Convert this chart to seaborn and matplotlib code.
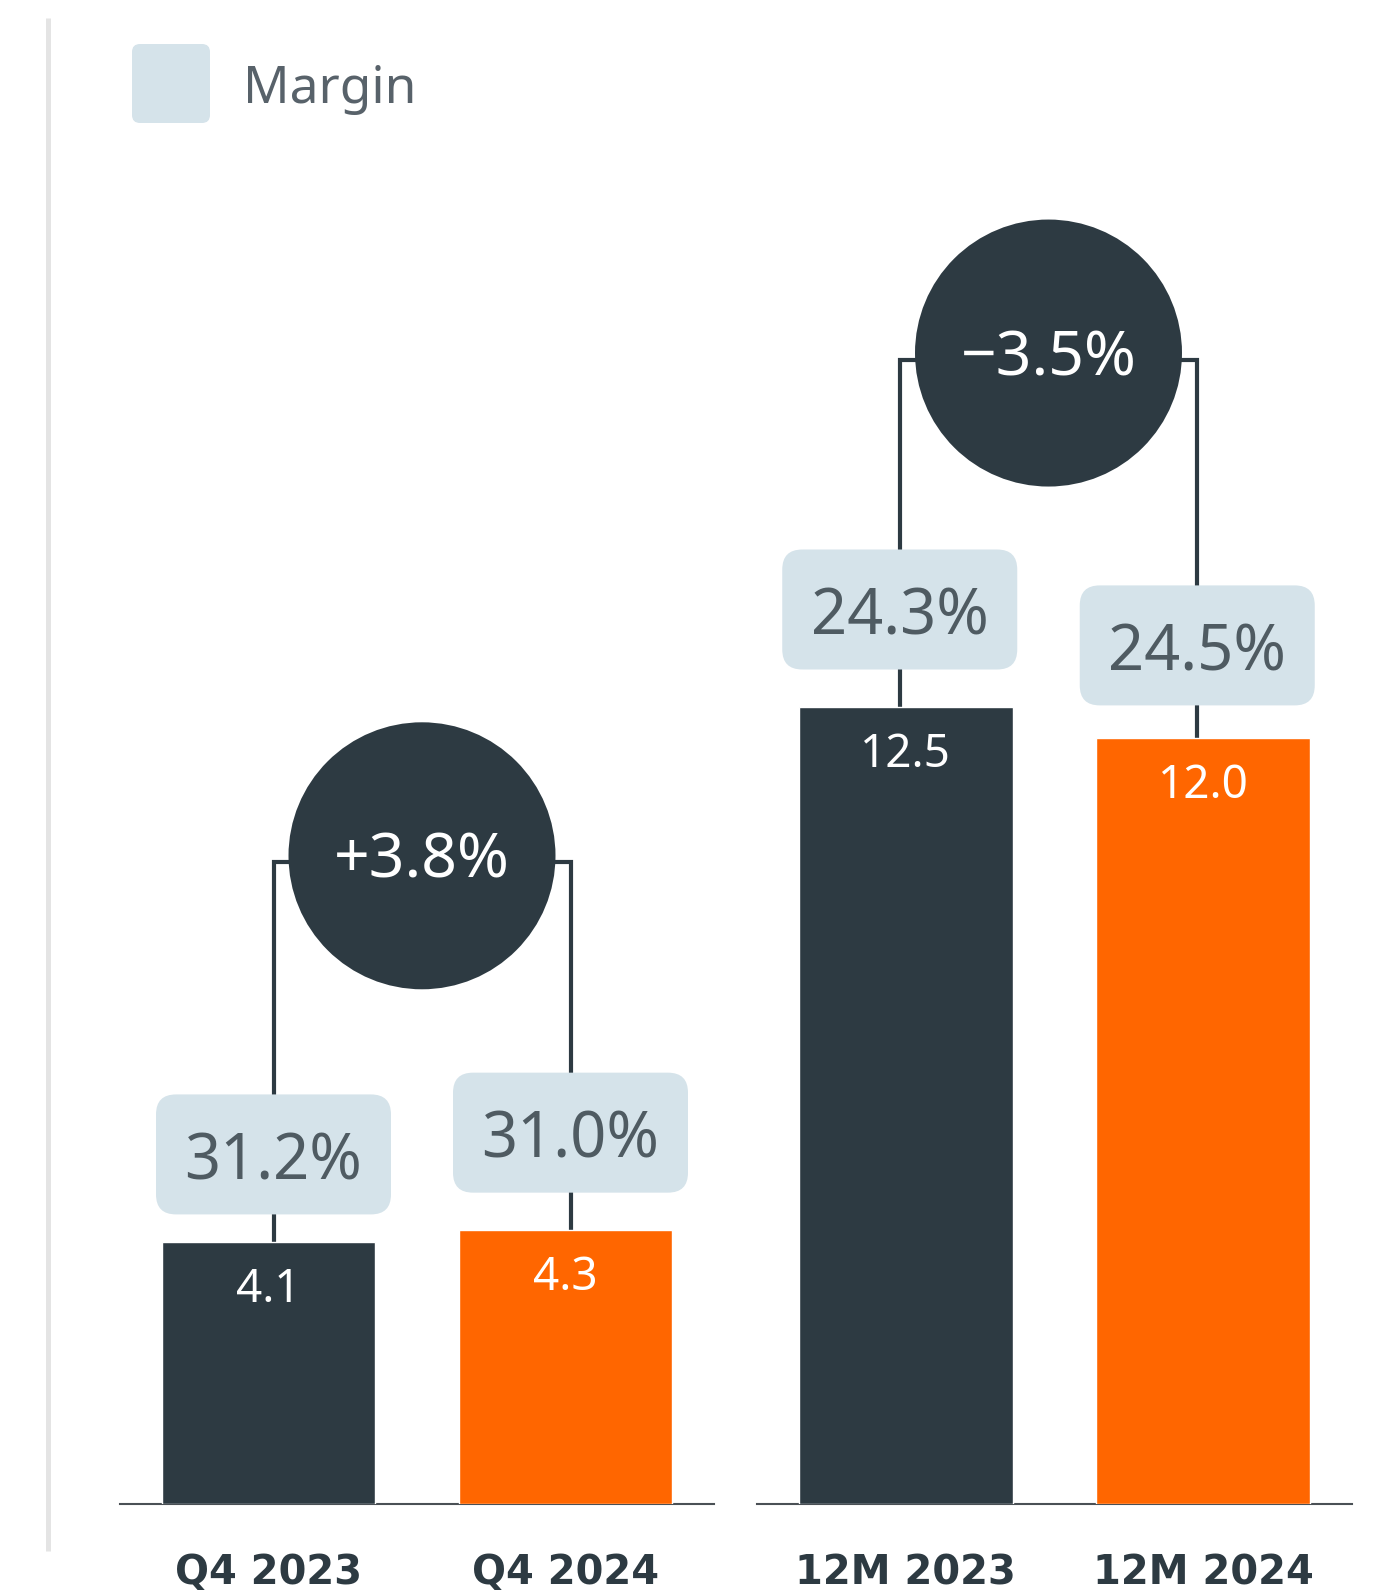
import matplotlib
matplotlib.use("Agg")
import matplotlib.pyplot as plt
import numpy as np
import pandas as pd
import seaborn as sns
from matplotlib.patches import FancyBboxPatch, Circle
from matplotlib.lines import Line2D
from matplotlib.transforms import ScaledTranslation

# ---- data -------------------------------------------------------------
periods = ["Q4 2023", "Q4 2024", "12M 2023", "12M 2024"]
values = [4.1, 4.3, 12.5, 12.0]          # bar values
margins = [31.2, 31.0, 24.3, 24.5]        # margin, %
groups = ["Q4", "Q4", "12M", "12M"]
group_order = ["Q4", "12M"]
changes = [3.8, -3.5]                     # year-on-year change per group, %

# ---- style ------------------------------------------------------------
DARK = "#2d3a42"
ORANGE = "#ff6600"
BOX = "#d5e3ea"
BOX_TEXT = "#4f5b62"
BASE_LINE = "#4a5055"

sns.set_style("white")
plt.rcParams["font.family"] = ["Noto Sans", "DejaVu Sans"]

W, H, DPI = 1378, 1593, 100
fig = plt.figure(figsize=(W / DPI, H / DPI), dpi=DPI)
fig.patch.set_facecolor("white")

BASE = 1504          # baseline, px from top
PX_PER_UNIT = 63.8   # vertical scale
YMAX = BASE / PX_PER_UNIT


def px(v):
    return v / DPI


def axes_rect(x0, x1):
    return [x0 / W, (H - BASE) / H, (x1 - x0) / W, BASE / H]


df = pd.DataFrame({"period": periods, "value": values,
                   "margin": margins, "group": groups})

axes = [fig.add_axes(axes_rect(120, 714)), fig.add_axes(axes_rect(757, 1352))]

# layout: horizontal nudge of connectors per group (px), bubble height (data units)
conn_dx = [5, -6]
bubble_y = [10.16, 18.04]
bubble_r = px(133.5)
box_w, box_h = px(235), px(120)
box_gaps = [[28, 37], [37, 33]]   # space between bar top and badge, px

for gi, (ax, g) in enumerate(zip(axes, group_order)):
    sub = df[df["group"] == g].reset_index(drop=True)
    sns.barplot(data=sub, x="period", y="value", hue="period",
                palette=[DARK, ORANGE], width=0.72, saturation=1,
                legend=False, ax=ax, zorder=2)
    ax.set_xlim(-0.5, 1.5)
    ax.set_ylim(0, YMAX)
    ax.set_xlabel("")
    ax.set_ylabel("")
    ax.set_yticks([])
    ax.patch.set_alpha(0)
    for s in ["left", "right", "top"]:
        ax.spines[s].set_visible(False)
    ax.spines["bottom"].set_color(BASE_LINE)
    ax.spines["bottom"].set_linewidth(1.5)
    ax.spines["bottom"].set_zorder(1.5)
    ax.tick_params(axis="x", length=0, pad=35.5, colors=DARK)
    for lbl in ax.get_xticklabels():
        lbl.set_family("DejaVu Sans")
        lbl.set_fontweight("bold")
        lbl.set_fontsize(28.8)
        lbl.set_color(DARK)

    dx = px(conn_dx[gi])
    cy = bubble_y[gi]
    xc = 0.5

    for i, row in sub.iterrows():
        v = row["value"]
        gap = px(box_gaps[gi][i])
        anchor = fig.dpi_scale_trans + ScaledTranslation(i, v, ax.transData)

        # connector: bar top -> up -> across to bubble
        conn_tr = ax.transData + ScaledTranslation(dx, px(-6.5), fig.dpi_scale_trans)
        ax.add_line(Line2D([i, i, xc], [v, cy, cy], transform=conn_tr,
                           color=DARK, lw=3.0, zorder=0.8,
                           solid_joinstyle="miter", clip_on=False))

        # margin badge
        ax.add_patch(FancyBboxPatch((dx - box_w / 2, gap), box_w, box_h,
                                    boxstyle="round,pad=0,rounding_size=0.2",
                                    transform=anchor, facecolor=BOX,
                                    edgecolor="none", zorder=3, clip_on=False))
        ax.text(dx, gap + box_h / 2 - px(2) - px(23),
                f"{row['margin']:.1f}%", transform=anchor,
                ha="center", va="baseline", fontsize=45.5,
                color=BOX_TEXT, zorder=4, clip_on=False)

        # value inside the bar
        ax.text(0, px(-60), f"{v:.1f}", transform=anchor,
                ha="center", va="baseline", fontsize=33,
                color="white", zorder=4, clip_on=False)

    # change bubble
    b_anchor = fig.dpi_scale_trans + ScaledTranslation(xc, cy, ax.transData)
    ax.add_patch(Circle((dx, 0), bubble_r, transform=b_anchor,
                        facecolor=DARK, edgecolor="none", zorder=3,
                        clip_on=False))
    ch = changes[gi]
    sign = "+" if ch > 0 else "\u2212"
    ax.text(dx, px(-22), f"{sign}{abs(ch):.1f}%", transform=b_anchor,
            ha="center", va="baseline", fontsize=45, color="white",
            zorder=4, clip_on=False)

# legend swatch and label
fig.patches.append(FancyBboxPatch((px(132), px(H - 123)), px(78), px(79),
                                  boxstyle="round,pad=0,rounding_size=0.08",
                                  transform=fig.dpi_scale_trans,
                                  facecolor=BOX, edgecolor="none"))
fig.text(px(243), px(H - 103.3), "Margin", transform=fig.dpi_scale_trans,
         ha="left", va="baseline", fontsize=37, color="#58626a")

# thin divider on the left
fig.add_artist(Line2D([px(47.5), px(47.5)], [px(H - 18), px(H - 1551)],
                      transform=fig.dpi_scale_trans, color="#e4e4e4",
                      lw=3.6, solid_capstyle="butt"))

fig.savefig("out.png", dpi=DPI, facecolor="white")
